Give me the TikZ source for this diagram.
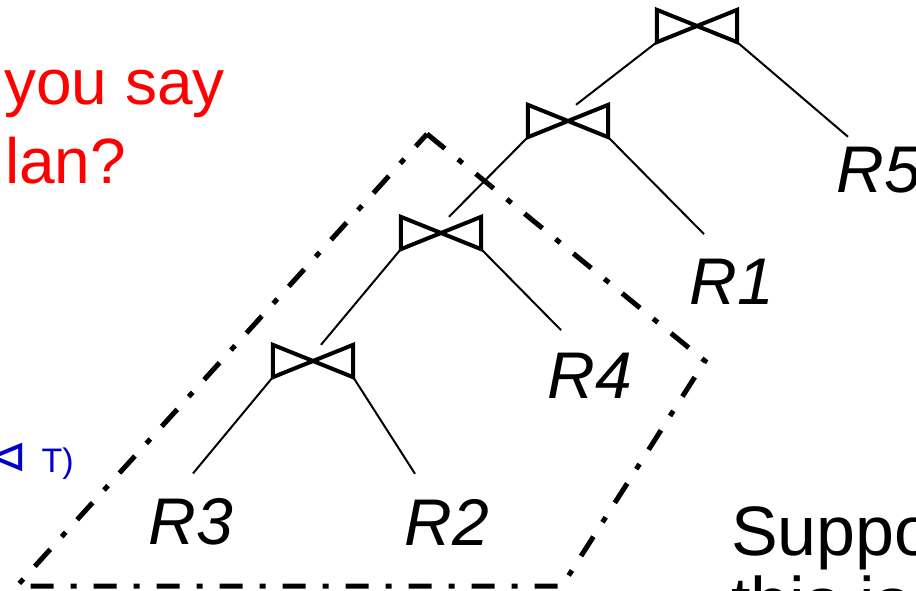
\documentclass[tikz,border=0pt]{standalone}
\usepackage{fontspec}
\setmainfont{Liberation Sans}
\newfontfamily\symbfont{DejaVu Sans}
\usepackage{xcolor}
\usepackage{tikz}
\definecolor{notered}{RGB}{255,0,0}
\definecolor{noteblue}{RGB}{0,0,204}

\begin{document}
\begin{tikzpicture}[
  x=1pt, y=-1pt,
  joinop/.style={rectangle, minimum width=80pt, minimum height=32pt, inner sep=0pt},
  tie/.style={line width=4pt, line join=miter},
  edge/.style={line width=2pt},
  rel/.style={inner sep=0pt, font=\fontsize{66}{66}\selectfont\itshape},
  question/.style={inner sep=0pt, anchor=base west, text=notered, font=\fontsize{64}{64}\selectfont},
  remark/.style={inner sep=0pt, anchor=base west, font=\fontsize{70}{70}\selectfont},
  subplan/.style={line width=5pt, dash pattern=on 23pt off 17pt on 6pt off 17pt, line join=miter}
]
\useasboundingbox (0,0) rectangle (916,591);
\clip (0,0) rectangle (916,591);

% join operators
\node[joinop] (j1) at (697,26) {};
\node[joinop] (j2) at (568,121) {};
\node[joinop] (j3) at (441,233) {};
\node[joinop] (j4) at (313,361) {};
\foreach \j in {j1,j2,j3,j4}
  \draw[tie] (\j.north west) -- (\j.south east) -- (\j.north east) -- (\j.south west) -- cycle;

% relations
\node[rel] (r5) at (879,170) {R5};
\node[rel] (r1) at (732,282) {R1};
\node[rel] (r4) at (590,376) {R4};
\node[rel] (r3) at (191,522) {R3};
\node[rel] (r2) at (447,522) {R2};

\draw[edge] (j1.south west) -- ([xshift=8pt]j2.north);
\draw[edge] (j1.south east) -- ([xshift=-31pt, yshift=10pt]r5.north);
\draw[edge] (j2.south west) -- ([xshift=8pt]j3.north);
\draw[edge] (j2.south east) -- ([xshift=-28pt, yshift=25pt]r1.north);
\draw[edge] (j3.south west) -- ([xshift=8pt]j4.north);
\draw[edge] (j3.south east) -- ([xshift=-29pt, yshift=23pt]r4.north);
\draw[edge] (j4.south west) -- ([xshift=2pt, yshift=25pt]r3.north);
\draw[edge] (j4.south east) -- ([xshift=-32pt, yshift=25pt]r2.north);

% subplan outline
\draw[subplan] (427,134) -- (705,361) -- (562,586) -- (17,586) -- cycle;

% slide text
\node[question] (ask1) at (4,105) {you say};
\node[question] (ask2) at (5,183) {lan?};
\node[inner sep=0pt, anchor=base east, text=noteblue, font=\fontsize{34}{34}\selectfont] (expr) at (74,472)
  {{\symbfont\fontsize{48}{48}\selectfont ⊲}\hspace{14pt}T)};
\node[remark] (say1) at (731,555) {Suppo};
\node[remark] (say2) at (731,626) {this is};
\end{tikzpicture}
\end{document}
